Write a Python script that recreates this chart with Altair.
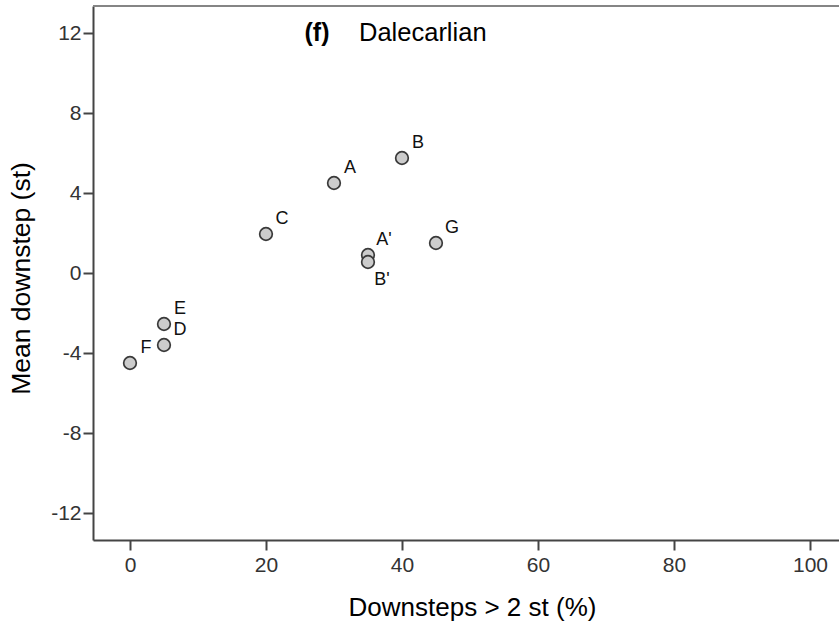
import altair as alt
import pandas as pd

# ---- data ----
labels = ["A", "B", "C", "A'", "B'", "G", "E", "D", "F"]
downsteps_pct = [30, 40, 20, 35, 35, 45, 5, 5, 0]
mean_downstep = [4.5, 5.75, 1.95, 0.9, 0.55, 1.5, -2.55, -3.6, -4.5]

x_ticks = [0, 20, 40, 60, 80, 100]
y_ticks = [-12, -8, -4, 0, 4, 8, 12]
x_domain = [-5.44, 104.27]
y_domain = [-13.35, 13.35]

panel_tag = "(f)"
panel_name = "Dalecarlian"
x_title = "Downsteps > 2 st (%)"
y_title = "Mean downstep (st)"

df = pd.DataFrame({"label": labels, "x": downsteps_pct, "y": mean_downstep})

FONT = "Liberation Sans"
W, H = 746, 534

xs = alt.Scale(domain=x_domain, nice=False, zero=False)
ys = alt.Scale(domain=y_domain, nice=False, zero=False)

x_enc = alt.X("x:Q", scale=xs, axis=alt.Axis(
    values=x_ticks, title=x_title, grid=False, domainColor="#444444",
    domainWidth=2, tickColor="#444444", tickWidth=2, tickSize=10,
    labelFontSize=21, labelColor="#333333", labelFont=FONT, labelPadding=4,
    labelExpr="toString(datum.value)",
    titleFontSize=26, titleFont=FONT, titleFontWeight="normal",
    titleColor="#000000", titlePadding=19, titleX=379, titleAlign="center"))
y_enc = alt.Y("y:Q", scale=ys, axis=alt.Axis(
    values=y_ticks, title=y_title, grid=False, domainColor="#444444",
    domainWidth=2, tickColor="#444444", tickWidth=2, tickSize=10,
    labelFontSize=21, labelColor="#333333", labelFont=FONT, labelPadding=2,
    labelExpr="toString(datum.value)",
    titleFontSize=26.5, titleFont=FONT, titleFontWeight="normal",
    titleColor="#000000", titleAngle=-90, titleBaseline="alphabetic",
    titleX=-64, titleY=272))

base = alt.Chart(df)

points = base.mark_point(
    shape="circle", filled=True, size=160, fill="#cccccc",
    stroke="#3a3a3a", strokeWidth=1.7, opacity=1
).encode(x=x_enc, y=y_enc)

above = base.transform_filter(alt.datum.label != "B'").mark_text(
    font=FONT, fontSize=18, color="#111111", dx=16, dy=-15,
    align="center", baseline="middle"
).encode(x=alt.X("x:Q", scale=xs), y=alt.Y("y:Q", scale=ys), text="label:N")

below = base.transform_filter(alt.datum.label == "B'").mark_text(
    font=FONT, fontSize=18, color="#111111", dx=14, dy=18,
    align="center", baseline="middle"
).encode(x=alt.X("x:Q", scale=xs), y=alt.Y("y:Q", scale=ys), text="label:N")

top_line = alt.Chart(pd.DataFrame({"k": [0]})).mark_rule(
    color="#858585", strokeWidth=2
).encode(x=alt.value(0), x2=alt.value(W), y=alt.value(0))

tag = alt.Chart(pd.DataFrame({"t": [panel_tag]})).mark_text(
    font=FONT, fontSize=25, fontWeight="bold", color="#000000",
    align="center", baseline="alphabetic"
).encode(x=alt.value(224), y=alt.value(35), text="t:N")

name = alt.Chart(pd.DataFrame({"t": [panel_name]})).mark_text(
    font=FONT, fontSize=25.5, color="#000000",
    align="left", baseline="alphabetic"
).encode(x=alt.value(266), y=alt.value(35), text="t:N")

chart = alt.layer(points, above, below, top_line, tag, name).properties(
    width=W, height=H,
    autosize=alt.AutoSizeParams(type="none"),
    padding={"left": 93, "top": 6, "right": 0, "bottom": 85},
    background="white",
).configure_view(stroke=None)

chart.save("out.html", embed_options={"renderer": "svg", "actions": False})
